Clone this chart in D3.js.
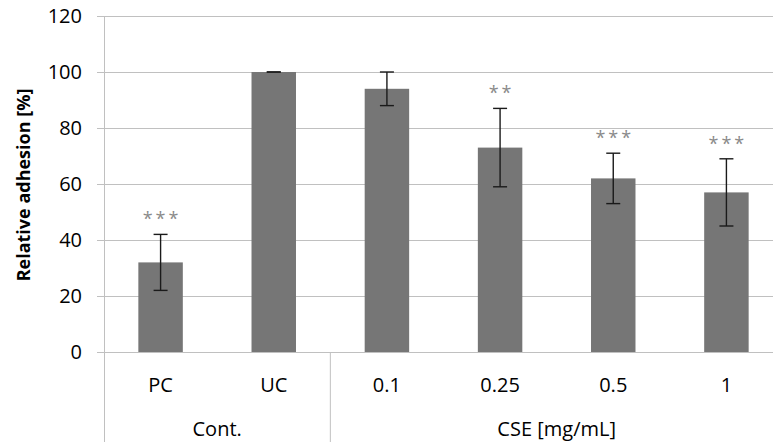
<!DOCTYPE html>
<html><head><meta charset="utf-8">
<script src="https://cdn.jsdelivr.net/npm/d3@7"></script>
<style>body{margin:0;background:#fff}svg{display:block}text{font-family:"Open Sans",sans-serif}</style>
</head><body>
<svg id="c" width="773" height="446"></svg>
<script>
const categories = ["PC","UC","0.1","0.25","0.5","1"];
const values = [32,100,94,73,62,57];
const errors = [10,0,6,14,9,12];
const stars = ["***","","","**","***","***"];
const groups = [{label:"Cont.", from:0, to:1},{label:"CSE [mg/mL]", from:2, to:5}];
const yTicks = [0,20,40,60,80,100,120];

const svg = d3.select("#c");
const pL = 104, pR = 783, pT = 16, pB = 352;
const x = d3.scaleBand().domain(categories).range([pL,pR]).paddingInner(0.607).paddingOuter(0.3035);
const y = d3.scaleLinear().domain([0,120]).range([pB,pT]);
const cw = (pR-pL)/categories.length;

const grid = "#c0c0c0";
const yAxis = d3.axisLeft(y).tickValues(yTicks).tickSize(-(pR-pL)).tickSizeOuter(0).tickPadding(22);
const ga = svg.append("g").attr("transform",`translate(${pL},0)`).call(yAxis);
ga.select(".domain").remove();
ga.selectAll(".tick line").attr("stroke",grid).attr("x1",-7);
ga.selectAll(".tick text").attr("font-size",20).attr("fill","#000").attr("font-family",null);

svg.append("line").attr("x1",pL+0.5).attr("x2",pL+0.5).attr("y1",pT).attr("y2",442).attr("stroke",grid);
groups.slice(1).forEach(g=>{
  const xx = pL + g.from*cw;
  svg.append("line").attr("x1",xx).attr("x2",xx).attr("y1",pB).attr("y2",442).attr("stroke",grid);
});

svg.append("g").selectAll("rect").data(categories).join("rect")
  .attr("x",d=>x(d)).attr("width",x.bandwidth())
  .attr("y",(d,i)=>y(values[i])).attr("height",(d,i)=>y(0)-y(values[i]))
  .attr("fill","#767676");

svg.append("line").attr("x1",pL-7).attr("x2",pR).attr("y1",pB+0.5).attr("y2",pB+0.5).attr("stroke",grid);

const eb = svg.append("g").attr("stroke","#1a1a1a").attr("stroke-width",1.4);
categories.forEach((c,i)=>{
  const cx = x(c)+x.bandwidth()/2;
  const yt = y(values[i]+errors[i]), yb = y(values[i]-errors[i]);
  eb.append("line").attr("x1",cx).attr("x2",cx).attr("y1",yt).attr("y2",yb);
  eb.append("line").attr("x1",cx-7).attr("x2",cx+7).attr("y1",yt).attr("y2",yt);
  eb.append("line").attr("x1",cx-7).attr("x2",cx+7).attr("y1",yb).attr("y2",yb);
  if(stars[i]){
    svg.append("text").attr("x",cx+1.5).attr("y",yt-9).attr("text-anchor","middle")
      .attr("font-size",18).attr("fill","#8a8a8a").attr("letter-spacing",3).text(stars[i]);
  }
});

svg.append("g").selectAll("text").data(categories).join("text")
  .attr("x",d=>x(d)+x.bandwidth()/2).attr("y",392).attr("text-anchor","middle")
  .attr("font-size",20).attr("fill","#000").text(d=>d);
groups.forEach(g=>{
  const cx = pL + (g.from + g.to + 1)/2*cw;
  svg.append("text").attr("x",cx).attr("y",436).attr("text-anchor","middle")
    .attr("font-size",20).attr("fill","#000").text(g.label);
});

svg.append("text").attr("transform",`translate(30,185) rotate(-90)`)
  .attr("text-anchor","middle").attr("font-size",18).attr("font-weight","bold").attr("fill","#000")
  .text("Relative adhesion [%]");
</script>
</body></html>
